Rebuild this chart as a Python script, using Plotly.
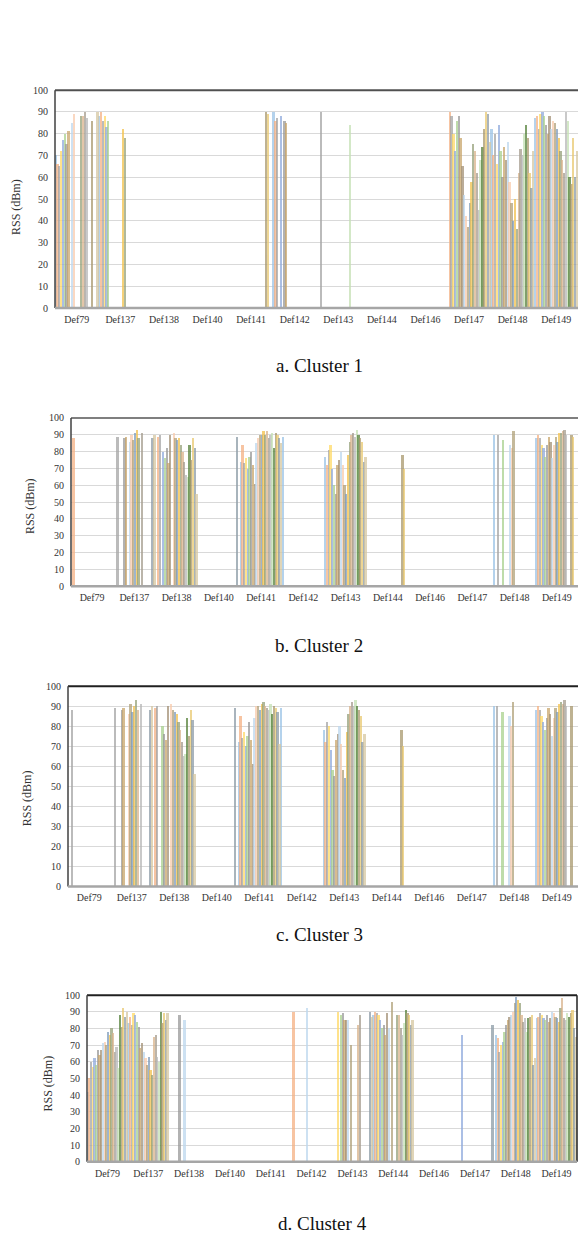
import plotly.graph_objects as go

# ---------------- data ----------------
categories = ["Def79", "Def137", "Def138", "Def140", "Def141", "Def142",
              "Def143", "Def144", "Def146", "Def147", "Def148", "Def149"]
y_ticks = [0, 10, 20, 30, 40, 50, 60, 70, 80, 90, 100]
captions = ["a. Cluster 1", "b. Cluster 2", "c. Cluster 3", "d. Cluster 4"]
y_title = "RSS (dBm)"

# RSS per category (one row per category, one value per access-point series)
cluster1 = [
    [70, 66, 65, 72, 77, 80, 75, 81, 0, 85, 89, 0, 0, 0, 88, 88, 90, 87, 0, 0, 86, 0, 0, 90],   # Def79
    [88, 90, 86, 88, 83, 86, 0, 0, 0, 0, 0, 0, 0, 82, 78, 0, 0, 0, 0, 0, 0, 0, 0, 0],          # Def137
    [0, 0, 0, 0, 0, 0, 0, 0, 0, 0, 0, 0, 0, 0, 0, 0, 0, 0, 0, 0, 0, 0, 0, 0],                  # Def138
    [0, 0, 0, 0, 0, 0, 0, 0, 0, 0, 0, 0, 0, 0, 0, 0, 0, 0, 0, 0, 0, 0, 0, 0],                  # Def140
    [0, 0, 0, 0, 0, 0, 0, 0, 0, 0, 0, 0, 0, 0, 0, 0, 0, 0, 0, 0, 90, 89, 0, 0],                # Def141
    [90, 86, 87, 0, 88, 0, 86, 85, 0, 0, 0, 0, 0, 0, 0, 0, 0, 0, 0, 0, 0, 0, 0, 0],            # Def142
    [0, 0, 90, 0, 0, 0, 0, 0, 0, 0, 0, 0, 0, 0, 0, 0, 0, 0, 84, 0, 0, 0, 0, 0],                # Def143
    [0, 0, 0, 0, 0, 0, 0, 0, 0, 0, 0, 0, 0, 0, 0, 0, 0, 0, 0, 0, 0, 0, 0, 0],                  # Def144
    [0, 0, 0, 0, 0, 0, 0, 0, 0, 0, 0, 0, 0, 0, 0, 0, 0, 0, 0, 0, 0, 0, 0, 0],                  # Def146
    [0, 90, 88, 80, 72, 86, 88, 78, 65, 52, 42, 37, 48, 58, 75, 72, 62, 45, 68, 74, 82, 90, 89, 76],  # Def147
    [82, 70, 80, 66, 84, 72, 60, 74, 68, 76, 58, 48, 40, 50, 36, 62, 73, 70, 80, 84, 78, 62, 55, 72],  # Def148
    [87, 88, 82, 89, 90, 88, 84, 80, 88, 82, 86, 85, 82, 78, 72, 68, 62, 90, 86, 60, 57, 78, 60, 72],  # Def149
]

cluster2 = [
    [0, 88, 0, 0, 0, 0, 0, 0, 0, 0, 0, 0, 0, 0, 0, 0, 0, 0, 0, 0, 0, 0, 0, 0],                 # Def79
    [0, 0, 89, 0, 0, 0, 88, 89, 0, 86, 90, 87, 91, 93, 88, 0, 91, 0, 0, 0, 0, 0, 88, 90],       # Def137
    [0, 89, 90, 0, 80, 76, 82, 73, 90, 0, 91, 88, 87, 88, 84, 80, 74, 66, 65, 84, 75, 88, 82, 55],  # Def138
    [0, 0, 0, 0, 0, 0, 0, 0, 0, 0, 0, 0, 0, 0, 0, 0, 0, 0, 0, 0, 0, 0, 89, 0],                 # Def140
    [74, 84, 73, 76, 70, 77, 80, 72, 61, 85, 88, 90, 90, 92, 90, 92, 88, 90, 91, 82, 91, 90, 88, 85],  # Def141
    [89, 0, 0, 0, 0, 0, 0, 0, 0, 0, 0, 0, 0, 0, 0, 0, 0, 0, 0, 0, 0, 0, 0, 0],                 # Def142
    [77, 72, 81, 84, 70, 60, 55, 72, 75, 80, 72, 60, 55, 78, 86, 90, 91, 89, 93, 90, 88, 86, 74, 77],  # Def143
    [0, 0, 0, 0, 0, 0, 0, 0, 0, 0, 0, 0, 0, 0, 0, 0, 0, 0, 0, 0, 78, 70, 0, 0],                # Def144
    [0, 0, 0, 0, 0, 0, 0, 0, 0, 0, 0, 0, 0, 0, 0, 0, 0, 0, 0, 0, 0, 0, 0, 0],                  # Def146
    [0, 0, 0, 0, 0, 0, 0, 0, 0, 0, 0, 0, 0, 0, 0, 0, 0, 0, 0, 0, 0, 0, 0, 0],                  # Def147
    [90, 0, 90, 0, 0, 87, 0, 0, 0, 84, 82, 92, 0, 0, 0, 0, 0, 0, 0, 0, 0, 0, 0, 0],            # Def148
    [88, 90, 88, 84, 82, 77, 84, 89, 86, 76, 84, 89, 86, 91, 91, 92, 93, 90, 0, 0, 90, 89, 0, 0],  # Def149
]

cluster3 = [
    [0, 0, 88, 0, 0, 0, 0, 0, 0, 0, 0, 0, 0, 0, 0, 0, 0, 0, 0, 0, 0, 0, 0, 0],                 # Def79
    [0, 0, 89, 0, 0, 0, 88, 89, 0, 0, 86, 91, 87, 90, 93, 88, 0, 91, 0, 0, 0, 0, 88, 90],       # Def137
    [0, 89, 90, 0, 0, 80, 76, 73, 90, 0, 91, 88, 87, 86, 82, 78, 72, 65, 66, 84, 75, 88, 83, 56],  # Def138
    [0, 0, 0, 0, 0, 0, 0, 0, 0, 0, 0, 0, 0, 0, 0, 0, 0, 0, 0, 0, 0, 0, 89, 0],                 # Def140
    [72, 85, 74, 77, 70, 75, 82, 73, 61, 84, 90, 90, 88, 91, 92, 90, 89, 88, 91, 86, 90, 89, 87, 71],  # Def141
    [89, 0, 0, 0, 0, 0, 0, 0, 0, 0, 0, 0, 0, 0, 0, 0, 0, 0, 0, 0, 0, 0, 0, 0],                 # Def142
    [78, 72, 82, 80, 68, 58, 55, 73, 76, 80, 71, 58, 54, 77, 86, 90, 92, 90, 93, 90, 88, 85, 72, 76],  # Def143
    [0, 0, 0, 0, 0, 0, 0, 0, 0, 0, 0, 0, 0, 0, 0, 0, 0, 0, 0, 0, 78, 70, 0, 0],                # Def144
    [0, 0, 0, 0, 0, 0, 0, 0, 0, 0, 0, 0, 0, 0, 0, 0, 0, 0, 0, 0, 0, 0, 0, 0],                  # Def146
    [0, 0, 0, 0, 0, 0, 0, 0, 0, 0, 0, 0, 0, 0, 0, 0, 0, 0, 0, 0, 0, 0, 0, 0],                  # Def147
    [90, 0, 90, 0, 0, 87, 0, 0, 0, 85, 80, 92, 0, 0, 0, 0, 0, 0, 0, 0, 0, 0, 0, 0],            # Def148
    [88, 90, 88, 85, 82, 78, 84, 89, 86, 75, 84, 89, 87, 91, 92, 91, 93, 90, 0, 0, 90, 0, 0, 0],   # Def149
]

cluster4 = [
    [42, 50, 60, 57, 62, 58, 67, 64, 67, 71, 72, 70, 78, 76, 80, 77, 66, 69, 56, 88, 81, 92, 87, 90],  # Def79
    [83, 87, 82, 89, 88, 84, 81, 68, 71, 66, 62, 58, 63, 55, 52, 75, 76, 63, 60, 90, 83, 89, 85, 89],  # Def137
    [0, 0, 0, 0, 0, 0, 88, 0, 0, 85, 0, 0, 0, 0, 0, 0, 0, 0, 0, 0, 0, 0, 0, 0],                # Def138
    [0, 0, 0, 0, 0, 0, 0, 0, 0, 0, 0, 0, 0, 0, 0, 0, 0, 0, 0, 0, 0, 0, 0, 0],                  # Def140
    [0, 0, 0, 0, 0, 0, 0, 0, 0, 0, 0, 0, 0, 0, 0, 0, 0, 0, 0, 0, 0, 0, 0, 0],                  # Def141
    [0, 90, 0, 0, 0, 0, 0, 0, 0, 92, 0, 0, 0, 0, 0, 0, 0, 0, 0, 0, 0, 0, 0, 0],                # Def142
    [0, 0, 0, 90, 0, 88, 89, 85, 85, 85, 0, 70, 0, 0, 0, 82, 88, 0, 0, 0, 0, 0, 90, 87],       # Def143
    [88, 90, 89, 88, 85, 80, 82, 76, 89, 80, 0, 96, 0, 0, 88, 88, 80, 76, 83, 91, 89, 88, 82, 85],  # Def144
    [0, 0, 0, 0, 0, 0, 0, 0, 0, 0, 0, 0, 0, 0, 0, 0, 0, 0, 0, 0, 0, 0, 0, 0],                  # Def146
    [0, 0, 0, 0, 76, 0, 0, 0, 0, 0, 0, 0, 0, 0, 0, 0, 0, 0, 0, 0, 0, 0, 82, 0],                # Def147
    [76, 74, 66, 70, 72, 78, 82, 85, 87, 88, 90, 95, 99, 97, 95, 88, 84, 86, 78, 86, 87, 88, 58, 62],  # Def148
    [86, 87, 89, 88, 86, 85, 88, 84, 86, 90, 89, 87, 86, 84, 92, 98, 86, 85, 89, 87, 89, 91, 80, 75],  # Def149
]

clusters = [cluster1, cluster2, cluster3, cluster4]

# ---------------- style / layout ----------------
W, H = 578, 1241
palette = ["#9DC3E6", "#F4B183", "#A5A5A5", "#FFD966", "#8FAADC", "#A9D18E",
           "#999999", "#C9A66B", "#A39277", "#BDD7EE", "#F8CBAD", "#B0A27A",
           "#7F9DBB", "#F2C14E", "#96A27A", "#D9B38C", "#A59C8E", "#B7B7B7",
           "#C5E0B4", "#55803A", "#A8986E", "#E8C872", "#8D9BA7", "#D6C7A1"]

# pixel geometry of each panel: left, right, top, bottom, y-title x/y, caption x/y
panels = [
    dict(l=55, r=578, t=85, b=305, tx=16, ty=203, cx=319, cy=363, top="#505050", right=None),
    dict(l=71, r=578, t=416, b=586, tx=30, ty=505, cx=319, cy=646, top="#7F7F7F", right=None),
    dict(l=68, r=578, t=687, b=889, tx=27, ty=800, cx=319, cy=938, top="#202020", right=None),
    dict(l=87, r=577, t=999, b=1167, tx=48, ty=1088, cx=322, cy=1229, top="#202020", right="#202020"),
]

FONT = "Liberation Serif, Times New Roman, serif"

def px(x):
    return x / W

def py(y):
    return 1 - y / H

fig = go.Figure()
shapes = []
annotations = []

for p_i, (data, pn) in enumerate(zip(clusters, panels)):
    ax = "" if p_i == 0 else str(p_i + 1)
    n_series = len(data[0])
    for s in range(n_series):
        fig.add_trace(go.Bar(
            x=categories,
            y=[row[s] for row in data],
            marker=dict(color=palette[s % len(palette)], line=dict(width=0)),
            opacity=0.75,
            xaxis="x" + ax, yaxis="y" + ax,
            offsetgroup=str(s),
            showlegend=False,
            hoverinfo="x+y",
        ))
    fig.layout["xaxis" + ax] = dict(
        domain=[px(pn["l"]), px(pn["r"])], anchor="y" + ax,
        type="category", categoryorder="array", categoryarray=categories,
        range=[-0.5, len(categories) - 0.5],
        showgrid=False, zeroline=False, showline=False, ticks="",
        tickfont=dict(family=FONT, size=10, color="#333333"),
        ticklabelstandoff=4, fixedrange=True,
    )
    fig.layout["yaxis" + ax] = dict(
        domain=[py(pn["b"]), py(pn["t"])], anchor="x" + ax,
        range=[0, 100], tickvals=y_ticks,
        showgrid=True, gridcolor="#D9D9D9", gridwidth=1.3,
        zeroline=False, showline=False, ticks="",
        tickfont=dict(family=FONT, size=10, color="#333333"),
        ticklabelstandoff=6, fixedrange=True,
    )
    # frame lines
    shapes.append(dict(type="line", xref="paper", yref="paper",
                       x0=px(pn["l"]), x1=px(pn["r"]), y0=py(pn["t"]), y1=py(pn["t"]),
                       line=dict(color=pn["top"], width=2), layer="above"))
    shapes.append(dict(type="line", xref="paper", yref="paper",
                       x0=px(pn["l"]), x1=px(pn["l"]), y0=py(pn["b"]), y1=py(pn["t"]),
                       line=dict(color="#404040", width=1.5), layer="above"))
    if pn["right"]:
        shapes.append(dict(type="line", xref="paper", yref="paper",
                           x0=px(pn["r"]), x1=px(pn["r"]), y0=py(pn["b"]), y1=py(pn["t"]),
                           line=dict(color=pn["right"], width=1.5), layer="above"))
    shapes.append(dict(type="line", xref="paper", yref="paper",
                       x0=px(pn["l"]), x1=px(pn["r"]), y0=py(pn["b"]), y1=py(pn["b"]),
                       line=dict(color="#A6A6A6", width=2.5), layer="above"))
    annotations.append(dict(text=y_title, x=px(pn["tx"]), y=py(pn["ty"]),
                            xref="paper", yref="paper", showarrow=False, textangle=-90,
                            xanchor="center", yanchor="middle",
                            font=dict(family=FONT, size=12, color="#333333")))
    annotations.append(dict(text=captions[p_i], x=px(pn["cx"]), y=py(pn["cy"]),
                            xref="paper", yref="paper", showarrow=False,
                            xanchor="center", yanchor="middle",
                            font=dict(family=FONT, size=19, color="#111111")))

fig.update_layout(
    width=W, height=H,
    margin=dict(l=0, r=0, t=0, b=0),
    paper_bgcolor="white", plot_bgcolor="white",
    barmode="group", bargap=0, bargroupgap=0,
    shapes=shapes, annotations=annotations,
    showlegend=False,
)

fig.write_html(
    "out.html",
    config={"displayModeBar": False},
    post_script="document.body.style.margin='0';document.body.style.overflow='hidden';",
)
